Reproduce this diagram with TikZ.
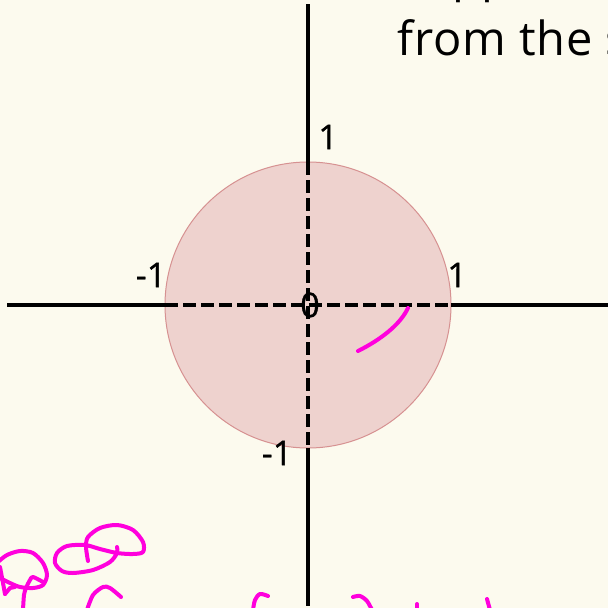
\documentclass[tikz,border=0pt]{standalone}
\usepackage{fontspec}
\setmainfont{Open Sans}
\definecolor{bgcol}{RGB}{252,250,238}
\definecolor{discfill}{RGB}{238,210,206}
\definecolor{discline}{RGB}{214,145,145}
\definecolor{ink}{RGB}{255,0,221}
\tikzset{
  axisline/.style={line width=4pt,black},
  axisdash/.style={line width=4pt,black,dash pattern=on 13pt off 5pt},
  lbl/.style={font=\fontsize{34}{36}\selectfont\addfontfeature{FakeBold=0.8},inner sep=0pt},
  bigtext/.style={anchor=base west,inner sep=0pt,font=\fontsize{47}{50}\selectfont\addfontfeature{LetterSpace=2}},
  scribble/.style={ink,line width=4pt,line cap=round,line join=round},
}
\begin{document}
\begin{tikzpicture}[x=1pt,y=-1pt]
\fill[bgcol] (0,0) rectangle (608,608);
\useasboundingbox (0,0) rectangle (608,608);
\clip (0,0) rectangle (608,608);
% text
\node[bigtext] (txt) at (397,55) {from the};
\node[bigtext] (txtnext) at (605,55) {s};
\node[bigtext] (prev) at (452,-9) {pp};
% disc
\coordinate (O) at (308,305);
\coordinate (L) at (165,305);
\coordinate (R) at (451,305);
\coordinate (T) at (308,162);
\coordinate (B) at (308,448);
\coordinate (Lend) at (7,305);
\coordinate (Rend) at (612,305);
\coordinate (Tend) at (308,4);
\coordinate (Bend) at (308,606);
\filldraw[fill=discfill,draw=discline,line width=1pt] (O) circle[radius=143];
% axes
\draw[axisline] (Lend) -- (L);
\draw[axisline] (R) -- (Rend);
\draw[axisline] (Tend) -- (T);
\draw[axisline] (B) -- (Bend);
\draw[axisdash] (L) -- (R);
\draw[axisdash] (T) -- (B);
% labels
\node[lbl] (l1) at (328,137) {1};
\node[lbl] (lm1) at (151,275) {-1};
\node[lbl] (r1) at (457,275) {1};
\node[lbl] (zero) at (310,305) {0};
\node[lbl] (bm1) at (277,453) {-1};
% scribbles
\draw[scribble] (408,308) .. controls (400,325) and (380,340) .. (358,351);
\draw[scribble] plot[smooth] coordinates {(88,561) (86,547) (88,537) (100,528) (117,525) (133,530) (143,542) (143,552) (133,554) (117,553) (100,549) (85,545) (67,546) (57,553) (55,563) (62,571) (73,573) (93,570) (110,562) (117,553) (117,547)};
\draw[scribble] plot[smooth] coordinates {(-2,562) (7,555) (20,551) (33,553) (43,563) (47,575) (43,585) (33,588) (20,587) (10,583) (-2,577)};
\draw[scribble] plot[smooth] coordinates {(23,610) (24,595) (26,588) (30,580) (33,577) (43,582)};
\draw[scribble] plot[smooth] coordinates {(0,567) (3,583) (5,594)};
\draw[scribble] (5,594) -- (10,588) -- (15,587);
\draw[scribble] plot[smooth] coordinates {(87,610) (93,595) (103,587) (110,588) (121,597)};
\draw[scribble] plot[smooth] coordinates {(268,596) (260,594) (255,600) (253,610)};
\draw[scribble] plot[smooth] coordinates {(353,597) (360,596) (367,601) (372,610)};
\draw[scribble] (417,604) -- (417,610);
\draw[scribble] (487,599) -- (490,610);
\end{tikzpicture}
\end{document}
